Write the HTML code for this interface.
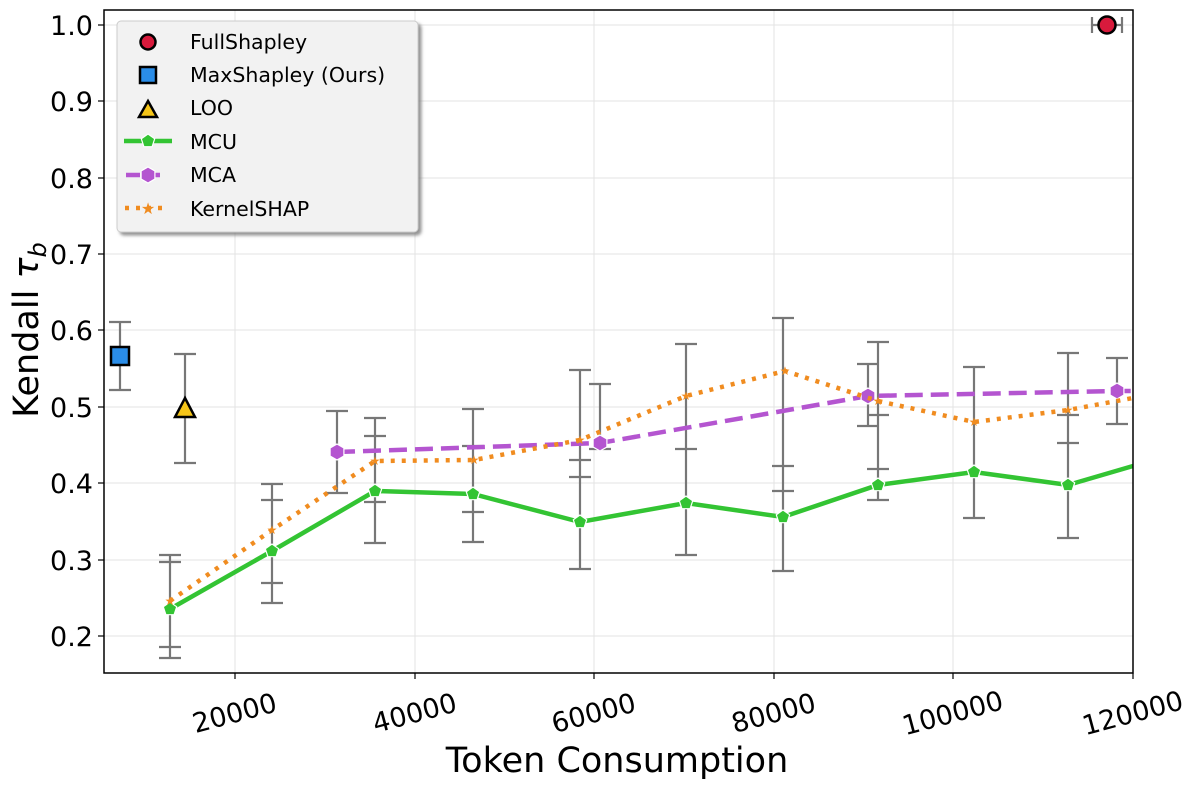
<!DOCTYPE html>
<html><head><meta charset="utf-8"><style>html,body{margin:0;padding:0;background:#fff}svg{display:block}text{font-family:"DejaVu Sans","Liberation Sans",sans-serif}</style></head>
<body>
<svg width="1200" height="788" viewBox="0 0 1200 788" xmlns="http://www.w3.org/2000/svg">
<defs>
<filter id="sh" x="-10%" y="-10%" width="130%" height="130%"><feDropShadow dx="3" dy="3" stdDeviation="1.5" flood-color="#777" flood-opacity="0.8"/></filter>
<polygon id="pent" points="0,-7 6.7,-2.2 4.1,5.7 -4.1,5.7 -6.7,-2.2" fill="#33c433" stroke="#fff" stroke-width="1.2"/>
<polygon id="hex" points="0,-8 6.9,-4 6.9,4 0,8 -6.9,4 -6.9,-4" fill="#b455d0" stroke="#fff" stroke-width="1.2"/>
</defs>
<!-- grid -->
<g stroke="#e3e3e3" stroke-width="1">
<line x1="104" x2="1133" y1="25" y2="25"/><line x1="104" x2="1133" y1="101" y2="101"/><line x1="104" x2="1133" y1="178" y2="178"/><line x1="104" x2="1133" y1="254" y2="254"/><line x1="104" x2="1133" y1="330" y2="330"/><line x1="104" x2="1133" y1="407" y2="407"/><line x1="104" x2="1133" y1="483" y2="483"/><line x1="104" x2="1133" y1="560" y2="560"/><line x1="104" x2="1133" y1="636" y2="636"/>
<line y1="10" y2="673" x1="235" x2="235"/><line y1="10" y2="673" x1="415" x2="415"/><line y1="10" y2="673" x1="594" x2="594"/><line y1="10" y2="673" x1="774" x2="774"/><line y1="10" y2="673" x1="953" x2="953"/>
</g>
<!-- error bars -->
<g stroke="#777" stroke-width="2.2" fill="none">
<path d="M120 322V390M109 322H131M109 390H131"/>
<path d="M185 354V463M174 354H196M174 463H196"/>
<path d="M1092 25H1122M1092 17V33M1122 17V33"/>
<path d="M170 555V658M159 555H181M159 658H181M159 562H181M159 647H181"/>
<path d="M272 484V603M261 484H283M261 603H283M261 500H283M261 583H283"/>
<path d="M337 411V493M326 411H348M326 493H348"/>
<path d="M375 418V543M364 418H386M364 543H386M364 436H386M364 502H386"/>
<path d="M473 409V542M462 409H484M462 542H484M462 446H484M462 512H484"/>
<path d="M580 370V569M569 370H591M569 569H591M569 460H591M569 477H591"/>
<path d="M600 384V449M589 384H611M589 449H611"/>
<path d="M686 344V555M675 344H697M675 555H697M675 449H697"/>
<path d="M783 318V571M772 318H794M772 571H794M772 491H794M772 466H794"/>
<path d="M868 364V426M857 364H879M857 426H879"/>
<path d="M878 342V500M867 342H889M867 500H889M867 469H889M867 415H889"/>
<path d="M974 367V518M963 367H985M963 518H985"/>
<path d="M1068 353V538M1057 353H1079M1057 538H1079M1057 415H1079M1057 443H1079"/>
<path d="M1117 358V424M1106 358H1128M1106 424H1128"/>
</g>
<!-- MCU -->
<polyline fill="none" stroke="#33c433" stroke-width="4.5" points="170,609 272,551 375,491 473,494 580,522 686,503 783,517 878,485 974,472 1068,485 1133,466"/>
<use href="#pent" x="170" y="609"/><use href="#pent" x="272" y="551"/><use href="#pent" x="375" y="491"/><use href="#pent" x="473" y="494"/><use href="#pent" x="580" y="522"/><use href="#pent" x="686" y="503"/><use href="#pent" x="783" y="517"/><use href="#pent" x="878" y="485"/><use href="#pent" x="974" y="472"/><use href="#pent" x="1068" y="485"/>
<!-- MCA -->
<polyline fill="none" stroke="#b455d0" stroke-width="4.5" stroke-dasharray="18,8" points="337,452 600,443 868,396 1117,391 1133,391"/>
<use href="#hex" x="337" y="452"/><use href="#hex" x="600" y="443"/><use href="#hex" x="868" y="396"/><use href="#hex" x="1117" y="391"/>
<!-- KernelSHAP -->
<polyline fill="none" stroke="#f08c20" stroke-width="4.5" stroke-dasharray="4,7" points="170,601 272,530 375,461 474,460 580,440 686,396 785,371 878,401 974,422 1068,410 1133,398"/>
<g fill="#f08c20" font-size="12" text-anchor="middle"><text x="170" y="605">★</text><text x="272" y="534">★</text><text x="375" y="465">★</text><text x="474" y="464">★</text><text x="580" y="444">★</text><text x="686" y="400">★</text><text x="785" y="375">★</text><text x="878" y="405">★</text><text x="974" y="426">★</text><text x="1068" y="414">★</text></g>
<!-- single markers -->
<rect x="111" y="347" width="18" height="18" fill="#2a8de8" stroke="#000" stroke-width="2.5"/>
<polygon points="185,398 195,417 175,417" fill="#f5c518" stroke="#000" stroke-width="2.5"/>
<circle cx="1107" cy="25" r="8.5" fill="#d81a3c" stroke="#000" stroke-width="2.5"/>
<!-- axes -->
<rect x="104" y="10" width="1029" height="663" fill="none" stroke="#000" stroke-width="1.5"/>
<g stroke="#000" stroke-width="1.2">
<line x1="98" x2="104" y1="25" y2="25"/><line x1="98" x2="104" y1="101" y2="101"/><line x1="98" x2="104" y1="178" y2="178"/><line x1="98" x2="104" y1="254" y2="254"/><line x1="98" x2="104" y1="330" y2="330"/><line x1="98" x2="104" y1="407" y2="407"/><line x1="98" x2="104" y1="483" y2="483"/><line x1="98" x2="104" y1="560" y2="560"/><line x1="98" x2="104" y1="636" y2="636"/>
<line y1="673" y2="679" x1="235" x2="235"/><line y1="673" y2="679" x1="415" x2="415"/><line y1="673" y2="679" x1="594" x2="594"/><line y1="673" y2="679" x1="774" x2="774"/><line y1="673" y2="679" x1="953" x2="953"/><line y1="673" y2="679" x1="1133" x2="1133"/>
</g>
<g font-size="27" text-anchor="end" fill="#000">
<text x="93" y="35">1.0</text><text x="93" y="111">0.9</text><text x="93" y="188">0.8</text><text x="93" y="264">0.7</text><text x="93" y="340">0.6</text><text x="93" y="417">0.5</text><text x="93" y="493">0.4</text><text x="93" y="570">0.3</text><text x="93" y="646">0.2</text>
</g>
<g font-size="27" text-anchor="middle" fill="#000">
<text transform="translate(237,722) rotate(-15)">20000</text>
<text transform="translate(417,722) rotate(-15)">40000</text>
<text transform="translate(596,722) rotate(-15)">60000</text>
<text transform="translate(776,722) rotate(-15)">80000</text>
<text transform="translate(955,722) rotate(-15)">100000</text>
<text transform="translate(1135,722) rotate(-15)">120000</text>
</g>
<text x="617" y="772" font-size="35" text-anchor="middle">Token Consumption</text>
<text transform="translate(38,330) rotate(-90)" font-size="35" text-anchor="middle">Kendall  <tspan font-style="italic">τ</tspan><tspan font-size="24" dy="8" font-style="italic">b</tspan></text>
<!-- legend -->
<rect x="117" y="21" width="301" height="211" rx="4" fill="#f2f2f2" stroke="#ccc" stroke-width="1" filter="url(#sh)"/>
<g font-size="20.5" fill="#000">
<text x="190" y="49">FullShapley</text><text x="190" y="82">MaxShapley (Ours)</text><text x="190" y="115">LOO</text><text x="190" y="149">MCU</text><text x="190" y="182">MCA</text><text x="190" y="216">KernelSHAP</text>
</g>
<circle cx="148" cy="42" r="7.5" fill="#d81a3c" stroke="#000" stroke-width="2.5"/>
<rect x="140" y="67" width="16" height="16" fill="#2a8de8" stroke="#000" stroke-width="2.5"/>
<polygon points="148,101 157,117 139,117" fill="#f5c518" stroke="#000" stroke-width="2.5"/>
<line x1="124" x2="172" y1="141" y2="141" stroke="#33c433" stroke-width="4.5"/><use href="#pent" x="148" y="141"/>
<line x1="126" x2="166" y1="175" y2="175" stroke="#b455d0" stroke-width="4.5" stroke-dasharray="14,6"/><use href="#hex" x="148" y="175"/>
<line x1="125" x2="166" y1="208" y2="208" stroke="#f08c20" stroke-width="4.5" stroke-dasharray="4,7"/><text x="148" y="214" font-size="16" fill="#f08c20" text-anchor="middle">★</text>
</svg>
</body></html>
